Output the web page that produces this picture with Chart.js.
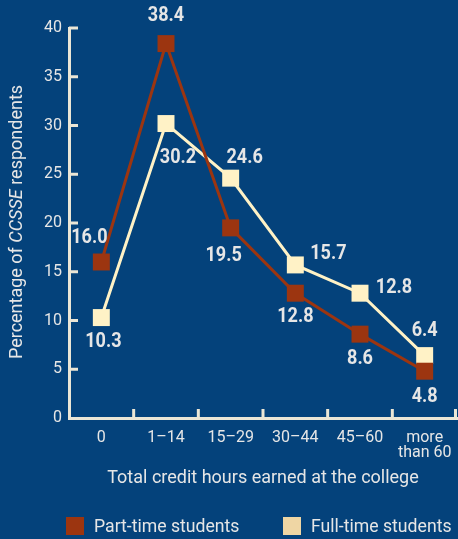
<!DOCTYPE html>
<html>
<head>
<title>Credit hours earned</title>
<script src="https://cdn.jsdelivr.net/npm/chart.js"></script>
<style>
  html, body { margin: 0; padding: 0; background: #04427b; }
  #wrap { width: 458px; height: 539px; }
</style>
</head>
<body>
<div id="wrap"><canvas id="c" width="458" height="539"></canvas></div>
<script>
// data
var categories = ['0', '1\u201314', '15\u201329', '30\u201344', '45\u201360', ['more', 'than 60']];
var partTime = [16.0, 38.4, 19.5, 12.8, 8.6, 4.8];
var fullTime = [10.3, 30.2, 24.6, 15.7, 12.8, 6.4];
var yTicks = [0, 5, 10, 15, 20, 25, 30, 35, 40];

var BG = '#04427b';
var RED = '#9c3510';
var CREAM = '#fff2c6';
var CREAM_LEGEND = '#efd6a4';
var AXIS = '#ebe6d6';
var TEXT = '#e6e6e6';
var FONT = "Roboto, 'Liberation Sans', sans-serif";

// where each value label sits relative to its marker
var labelOffsets = [
  [[-12, -24], [0, -28], [-7, 28], [0, 24], [0, 25], [0, 26]],
  [[2, 24], [12, 34], [14, -20], [33, -11], [34, -5], [0, -25]]
];

var bgPlugin = {
  id: 'bg',
  beforeDraw: function (chart) {
    var ctx = chart.ctx;
    ctx.save();
    ctx.fillStyle = BG;
    ctx.fillRect(0, 0, chart.width, chart.height);
    ctx.restore();
  }
};

function condensedText(ctx, text, x, y, squeeze) {
  ctx.save();
  ctx.translate(x, y);
  ctx.scale(squeeze, 1);
  ctx.fillText(text, 0, 0);
  ctx.restore();
}

var extrasPlugin = {
  id: 'extras',
  afterDraw: function (chart) {
    var ctx = chart.ctx;
    var xs = chart.scales.x, ys = chart.scales.y;
    var area = chart.chartArea;
    ctx.save();

    // inward tick marks
    ctx.strokeStyle = AXIS;
    ctx.lineWidth = 3;
    ctx.beginPath();
    yTicks.forEach(function (v) {
      if (v === 0) return;
      var py = ys.getPixelForValue(v);
      ctx.moveTo(area.left, py);
      ctx.lineTo(area.left + 9, py);
    });
    var half = (xs.getPixelForValue(1) - xs.getPixelForValue(0)) / 2;
    for (var i = 0; i < categories.length; i++) {
      var px = Math.min(xs.getPixelForValue(i) + half, area.right - 1.5);
      ctx.moveTo(px, area.bottom);
      ctx.lineTo(px, area.bottom - 9);
    }
    ctx.stroke();

    // value labels
    ctx.fillStyle = TEXT;
    ctx.font = 'bold 21px ' + FONT;
    ctx.textAlign = 'center';
    ctx.textBaseline = 'middle';
    chart.data.datasets.forEach(function (ds, di) {
      var meta = chart.getDatasetMeta(di);
      meta.data.forEach(function (pt, j) {
        var off = labelOffsets[di][j];
        condensedText(ctx, ds.data[j].toFixed(1), pt.x + off[0], pt.y + off[1], 0.86);
      });
    });

    // y axis title with italic CCSSE
    ctx.save();
    ctx.translate(17, 222);
    ctx.rotate(-Math.PI / 2);
    ctx.textAlign = 'left';
    var parts = [
      ['18px ' + FONT, 'Percentage of '],
      ['italic 18px ' + FONT, 'CCSSE'],
      ['18px ' + FONT, ' respondents']
    ];
    var total = 0;
    parts.forEach(function (p) { ctx.font = p[0]; total += ctx.measureText(p[1]).width; });
    var x0 = -total / 2;
    parts.forEach(function (p) {
      ctx.font = p[0];
      ctx.fillText(p[1], x0, 0);
      x0 += ctx.measureText(p[1]).width;
    });
    ctx.restore();

    // legend
    var legendItems = [
      { x: 66, color: RED, text: chart.data.datasets[0].label },
      { x: 283, color: CREAM_LEGEND, text: chart.data.datasets[1].label }
    ];
    ctx.font = '18px ' + FONT;
    ctx.textAlign = 'left';
    legendItems.forEach(function (it) {
      ctx.fillStyle = it.color;
      ctx.fillRect(it.x, 517, 18, 18);
      ctx.fillStyle = TEXT;
      condensedText(ctx, it.text, it.x + 28, 527, 0.98);
    });
    ctx.restore();
  }
};

new Chart(document.getElementById('c'), {
  type: 'line',
  data: {
    labels: categories,
    datasets: [
      {
        label: 'Part-time students',
        data: partTime,
        borderColor: RED,
        backgroundColor: RED,
        borderWidth: 3,
        pointStyle: 'rect',
        pointRadius: 12,
        pointBorderWidth: 0,
        tension: 0
      },
      {
        label: 'Full-time students',
        data: fullTime,
        borderColor: CREAM,
        backgroundColor: CREAM,
        borderWidth: 3,
        pointStyle: 'rect',
        pointRadius: 12,
        pointBorderWidth: 0,
        tension: 0
      }
    ]
  },
  options: {
    responsive: false,
    animation: false,
    events: [],
    layout: { autoPadding: false, padding: { top: 28, right: 1, left: 0, bottom: 50 } },
    plugins: {
      legend: { display: false },
      tooltip: { enabled: false }
    },
    scales: {
      x: {
        offset: true,
        grid: { display: false, drawTicks: true, tickLength: 12 },
        border: { display: true, color: AXIS, width: 3 },
        ticks: {
          color: TEXT,
          font: { family: FONT, size: 16, lineHeight: 0.95 },
          padding: 0,
          maxRotation: 0,
          autoSkip: false
        },
        title: {
          display: true,
          text: 'Total credit hours earned at the college',
          color: TEXT,
          font: { family: FONT, size: 18 },
          padding: { top: 4, bottom: 0 }
        },
        afterFit: function (s) { s.height = 71; }
      },
      y: {
        min: 0,
        max: 40,
        grid: { display: false, drawTicks: false },
        border: { display: true, color: AXIS, width: 3 },
        ticks: {
          stepSize: 5,
          color: TEXT,
          font: { family: FONT, size: 16 },
          padding: 7
        },
        afterFit: function (s) { s.width = 69; }
      }
    }
  },
  plugins: [bgPlugin, extrasPlugin]
});
</script>
</body>
</html>
